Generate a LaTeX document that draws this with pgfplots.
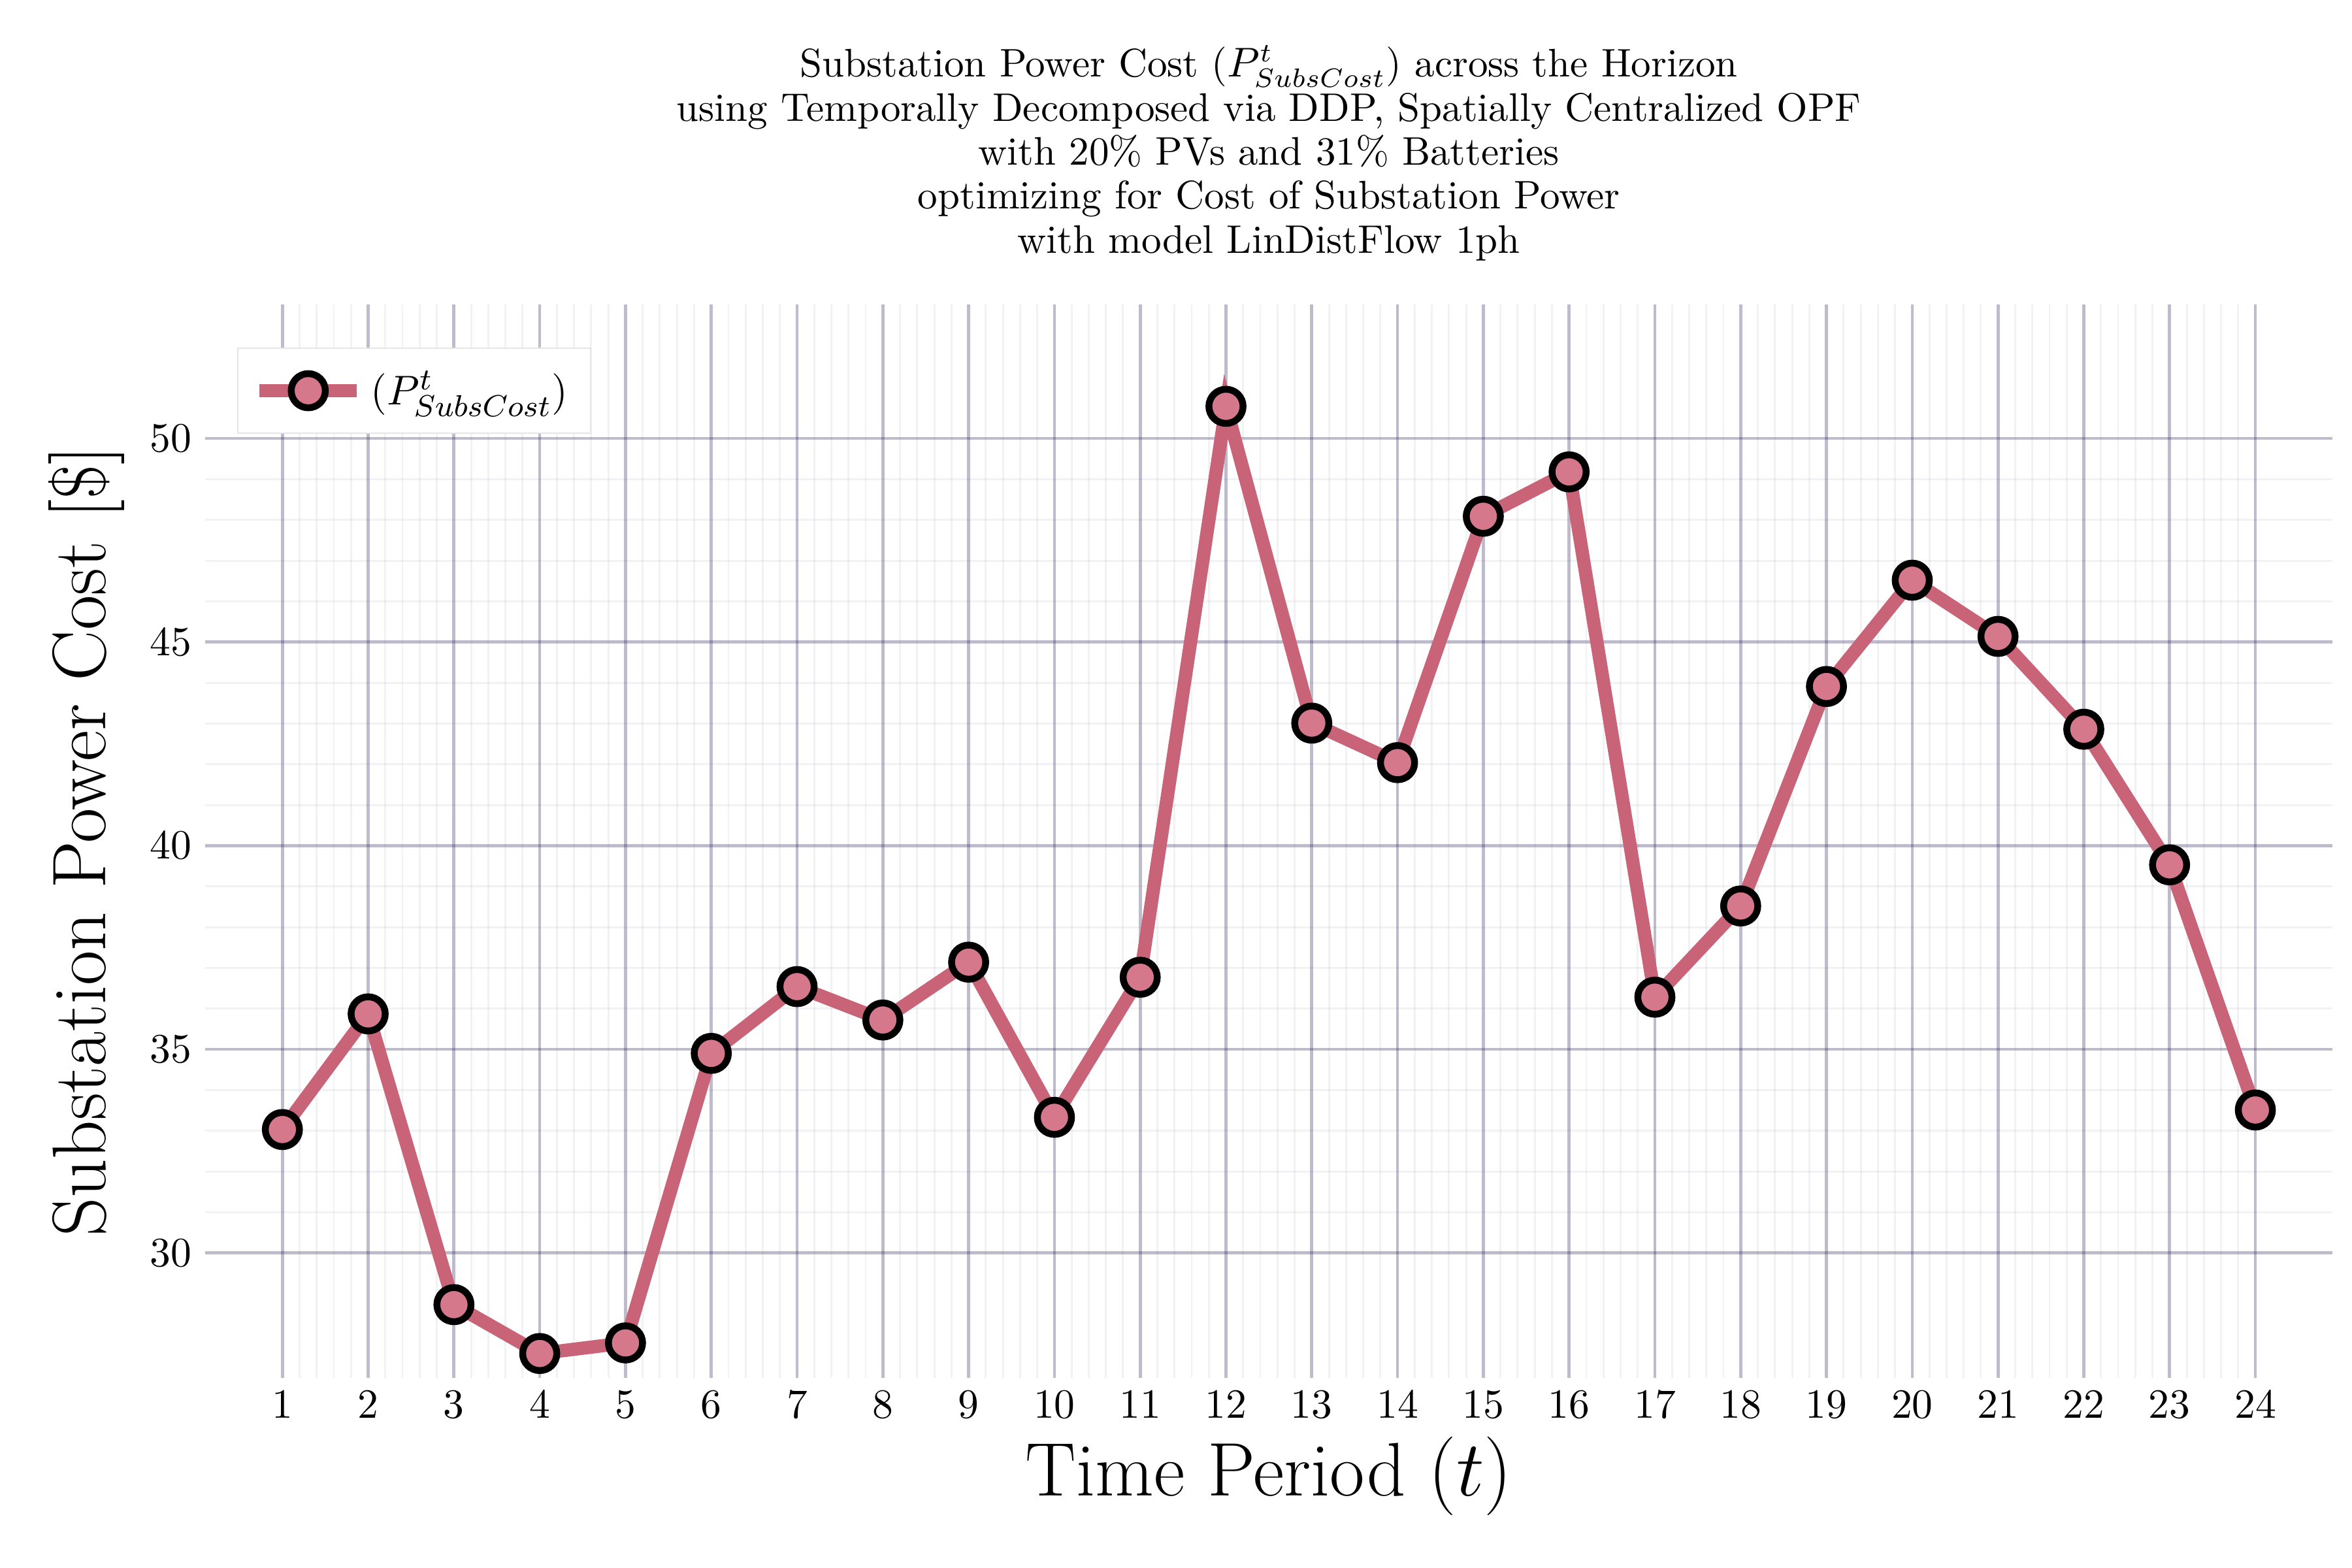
\documentclass[border=0pt]{standalone}
\usepackage{pgfplots}
\pgfplotsset{compat=1.18}
\definecolor{lc}{RGB}{201,99,120}
\definecolor{mf}{RGB}{214,120,140}
\definecolor{gc}{RGB}{40,30,90}
\begin{document}
\begin{tikzpicture}
\path[use as bounding box] (-1.9cm,-1.76cm) rectangle (19.88cm,12.76cm);
\begin{axis}[
 scale only axis, width=19.7cm, height=9.94cm,
 xmin=0.1, xmax=24.9, ymin=26.93, ymax=53.29,
 axis line style={draw=none}, tick style={draw=none},
 xtick={1,...,24}, ytick={30,35,40,45,50},
 minor x tick num=4, minor y tick num=4,
 grid=both,
 major grid style={gc,opacity=0.3,line width=0.8pt},
 minor grid style={gc,opacity=0.06,line width=0.5pt},
 tick label style={font=\fontsize{11}{13}\selectfont},
 xlabel={Time Period $(t)$}, ylabel={Substation Power Cost [\$]},
 xlabel style={font=\fontsize{20}{24}\selectfont, yshift=2pt},
 ylabel style={font=\fontsize{20}{24}\selectfont},
 title style={font=\fontsize{10.5}{11.6}\selectfont, align=center, yshift=2pt},
 title={Substation Power Cost ($P^t_{SubsCost}$) across the Horizon\\using Temporally Decomposed via DDP, Spatially Centralized OPF\\with 20\% PVs and 31\% Batteries\\optimizing for Cost of Substation Power\\with model LinDistFlow 1ph},
 legend style={draw=black!10, font=\fontsize{11}{13}\selectfont, at={(0.015,0.96)}, anchor=north west, inner sep=4pt},
 legend cell align=left,
 legend image code/.code={\draw[#1] (0cm,0cm) -- (0.9cm,0cm); \draw[#1,only marks] plot coordinates {(0.45cm,0cm)};},
]
\addplot[lc, line width=3.5pt, mark=*, mark size=4.5pt,
 mark options={fill=mf, draw=black, line width=1.8pt}]
coordinates {(1,33.03)(2,35.87)(3,28.73)(4,27.53)(5,27.79)(6,34.90)(7,36.54)(8,35.72)(9,37.14)(10,33.33)(11,36.77)(12,50.79)(13,43.01)(14,42.04)(15,48.09)(16,49.18)(17,36.28)(18,38.52)(19,43.91)(20,46.52)(21,45.14)(22,42.86)(23,39.53)(24,33.51)};
\addlegendentry{$(P^t_{SubsCost})$}
\end{axis}
\end{tikzpicture}
\end{document}
